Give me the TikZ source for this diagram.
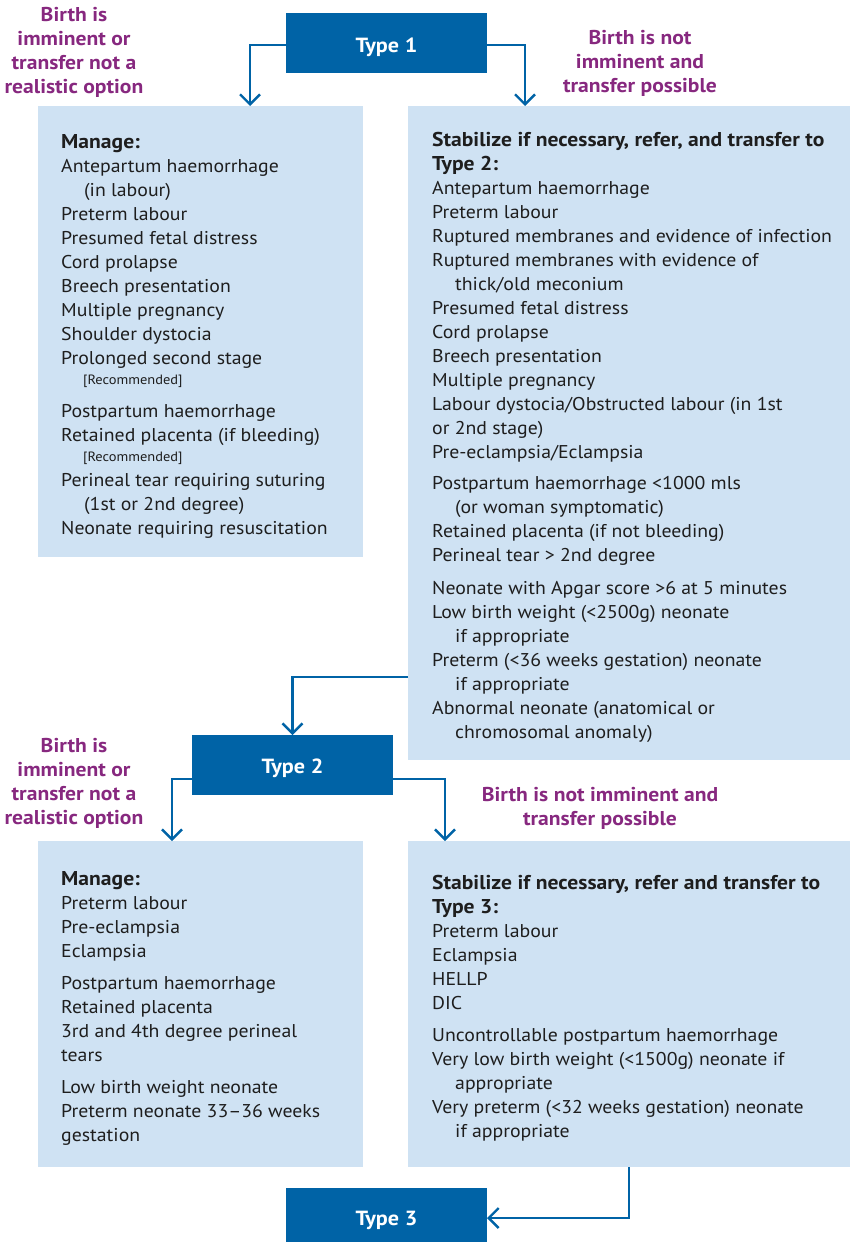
\documentclass[tikz,border=0pt]{standalone}
\usepackage{fontspec}
\setmainfont{PT Sans}[UprightFeatures={FakeStretch=1.07}, BoldFeatures={FakeStretch=1.08}]
\usetikzlibrary{arrows.meta,calc}
\definecolor{dblue}{HTML}{0063A6}
\definecolor{lblue}{HTML}{CFE2F3}
\definecolor{purp}{HTML}{87287F}
\definecolor{ink}{HTML}{1E1E1E}
\newcommand{\ind}{\hspace*{23pt}}
\newcommand{\recm}{{\fontsize{13.5}{15}\selectfont\hspace*{22pt}[Recommended]}}
\newcommand{\hd}[1]{\rule{0pt}{15pt}{\fontsize{20}{24}\selectfont\bfseries #1}}
\newcommand{\hdb}[1]{{\fontsize{20}{24}\selectfont\bfseries #1}}
\begin{document}
\begin{tikzpicture}[x=1pt,y=-1pt,
  typebox/.style={fill=dblue, draw=none, minimum width=201pt, minimum height=60pt, inner sep=0pt, outer sep=0pt,
    text=white, font=\fontsize{20.5}{24}\selectfont\bfseries, text height=18pt, text depth=0pt},
  panel/.style={fill=lblue, draw=none, inner sep=0pt, outer sep=0pt, anchor=north west},
  body/.style={text=ink, align=left, anchor=north west, inner sep=0pt, font=\fontsize{18.5}{24}\selectfont},
  cond/.style={text=purp, align=center, inner sep=0pt, anchor=north, font=\fontsize{20}{24}\selectfont\bfseries},
  arr/.style={draw=dblue, line width=2.4pt, -{Straight Barb[length=10pt,width=20pt]}},
]
\useasboundingbox (0,0) rectangle (850,1242);

% type boxes
\node[typebox, anchor=north west] (t1) at (286,13) {Type 1};
\node[typebox, anchor=north west, text height=16pt] (t2) at (192,735) {Type 2};
\node[typebox, anchor=north west, text height=15pt] (t3) at (286,1188) {Type 3};

% panels
\node[panel, minimum width=325pt, minimum height=451pt] (m1) at (38,106) {};
\node[panel, minimum width=442pt, minimum height=654pt] (r1) at (408,106) {};
\node[panel, minimum width=325pt, minimum height=326pt] (m2) at (38,841) {};
\node[panel, minimum width=442pt, minimum height=326pt] (r2) at (408,841) {};

% condition labels
\node[cond] (c1) at (74,7) {Birth is\\imminent or\\transfer not a\\realistic option};
\node[cond] (c2) at (640,30) {Birth is not\\imminent and\\transfer possible};
\node[cond] (c3) at (74,738) {Birth is\\imminent or\\transfer not a\\realistic option};
\node[cond] (c4) at (600,787) {Birth is not imminent and\\transfer possible};

% panel texts
\node[body] (m1t) at (61,133) {\hd{Manage:}\\
Antepartum haemorrhage\\
\ind(in labour)\\
Preterm labour\\
Presumed fetal distress\\
Cord prolapse\\
Breech presentation\\
Multiple pregnancy\\
Shoulder dystocia\\
Prolonged second stage\\[-4pt]
\recm\\[9pt]
Postpartum haemorrhage\\
Retained placenta (if bleeding)\\[-4pt]
\recm\\[1pt]
Perineal tear requiring suturing\\
\ind(1st or 2nd degree)\\
Neonate requiring resuscitation};

\node[body] (r1t) at (432,131) {\hd{Stabilize if necessary, refer, and transfer to}\\
\hdb{Type 2:}\\
Antepartum haemorrhage\\
Preterm labour\\
Ruptured membranes and evidence of infection\\
Ruptured membranes with evidence of\\
\ind thick/old meconium\\
Presumed fetal distress\\
Cord prolapse\\
Breech presentation\\
Multiple pregnancy\\
Labour dystocia/Obstructed labour (in 1st\\
or 2nd stage)\\
Pre-eclampsia/Eclampsia\\[7pt]
Postpartum haemorrhage <1000 mls\\
\ind(or woman symptomatic)\\
Retained placenta (if not bleeding)\\
Perineal tear > 2nd degree\\[9pt]
Neonate with Apgar score >6 at 5 minutes\\
Low birth weight (<2500g) neonate\\
\ind if appropriate\\
Preterm (<36 weeks gestation) neonate\\
\ind if appropriate\\
Abnormal neonate (anatomical or\\
\ind chromosomal anomaly)};

\node[body] (m2t) at (61,870) {\hd{Manage:}\\
Preterm labour\\
Pre-eclampsia\\
Eclampsia\\[8pt]
Postpartum haemorrhage\\
Retained placenta\\
3rd and 4th degree perineal\\
tears\\[8pt]
Low birth weight neonate\\
Preterm neonate 33--36 weeks\\
gestation};

\node[body] (r2t) at (432,874) {\hd{Stabilize if necessary, refer and transfer to}\\
\hdb{Type 3:}\\
Preterm labour\\
Eclampsia\\
HELLP\\
DIC\\[8pt]
Uncontrollable postpartum haemorrhage\\
Very low birth weight (<1500g) neonate if\\
\ind appropriate\\
Very preterm (<32 weeks gestation) neonate\\
\ind if appropriate};

% connectors
\coordinate (a1) at (250,106);
\coordinate (a2) at (525,106);
\coordinate (s3) at (408,677);
\coordinate (a3) at (172,841);
\coordinate (a4) at (445,841);
\coordinate (s5) at (629,1167);
\draw[arr] ([yshift=-2pt]t1.west) -| (a1);
\draw[arr] ([yshift=-2pt]t1.east) -| (a2);
\draw[arr] (s3) -| (t2.north);
\draw[arr] ([yshift=-14pt]t2.west) -| (a3);
\draw[arr] ([yshift=-14pt]t2.east) -| (a4);
\draw[arr] (s5) |- (t3.east);
\end{tikzpicture}
\end{document}
